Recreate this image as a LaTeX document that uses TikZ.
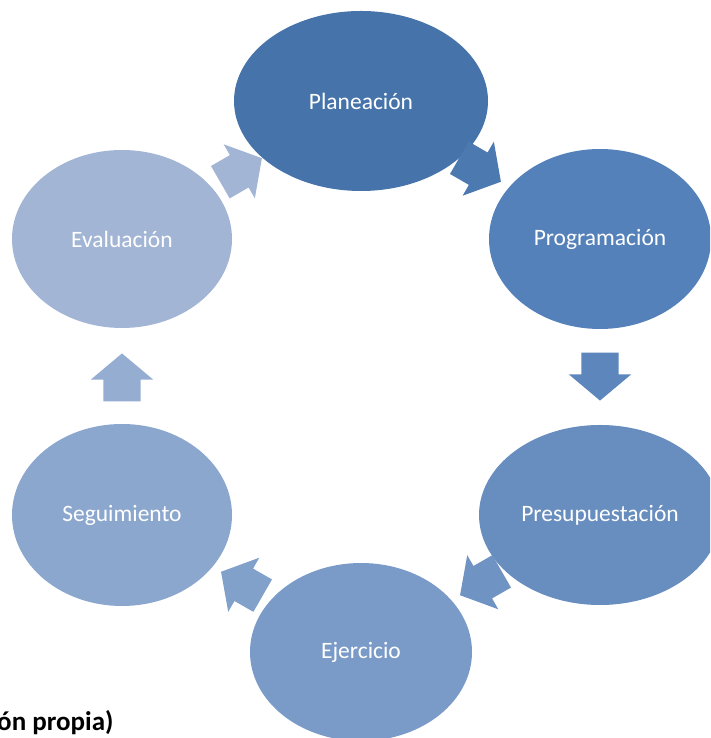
\documentclass[tikz,border=0pt]{standalone}
\usepackage{fontspec}
\setmainfont{Carlito}
\usetikzlibrary{shapes.geometric, shapes.arrows}

\definecolor{tonoA}{RGB}{70,116,170}
\definecolor{tonoB}{RGB}{84,129,186}
\definecolor{tonoC}{RGB}{104,141,191}
\definecolor{tonoD}{RGB}{122,155,199}
\definecolor{tonoE}{RGB}{140,167,206}
\definecolor{tonoF}{RGB}{162,181,213}

\begin{document}
\begin{tikzpicture}[x=1pt, y=1pt,
		fase/.style={ellipse, fill=#1, text=white, inner sep=0pt, font=\fontsize{23.5}{28}\selectfont},
		flecha/.style={single arrow, fill=#1, inner xsep=0pt, inner ysep=18.5pt, minimum height=48pt,
			single arrow head extend=12.5pt, single arrow tip angle=100, pos=0.47, sloped, allow upside down}]
		\clip (0,0) rectangle (710,738);
		\node[fase=tonoA, minimum width=254pt, minimum height=180pt] (plan) at (361,637) {Planeación};
		\node[fase=tonoB, minimum width=222pt, minimum height=180pt] (prog) at (600,499) {Programación};
		\node[fase=tonoC, minimum width=242pt, minimum height=180pt] (pres) at (600,223) {Presupuestación};
		\node[fase=tonoD, minimum width=222pt, minimum height=178pt] (ejer) at (361,86) {Ejercicio};
		\node[fase=tonoE, minimum width=220pt, minimum height=182pt] (segu) at (122,223) {Seguimiento};
		\node[fase=tonoF, minimum width=220pt, minimum height=178pt] (eval) at (122,499) {Evaluación};
		\path (plan.center) -- node[flecha=tonoA!60!tonoB] (f1) {} (prog.center);
		\path (prog.center) -- node[flecha=tonoB!60!tonoC] (f2) {} (pres.center);
		\path (pres.center) -- node[flecha=tonoC!60!tonoD] (f3) {} (ejer.center);
		\path (ejer.center) -- node[flecha=tonoD!60!tonoE] (f4) {} (segu.center);
		\path (segu.center) -- node[flecha=tonoE!60!tonoF] (f5) {} (eval.center);
		\path (eval.center) -- node[flecha=tonoF] (f6) {} (plan.center);
		\node[anchor=base east, font=\bfseries\fontsize{27}{32}\selectfont] (fuente) at (117,8) {ón propia)};
	\end{tikzpicture}
\end{document}
